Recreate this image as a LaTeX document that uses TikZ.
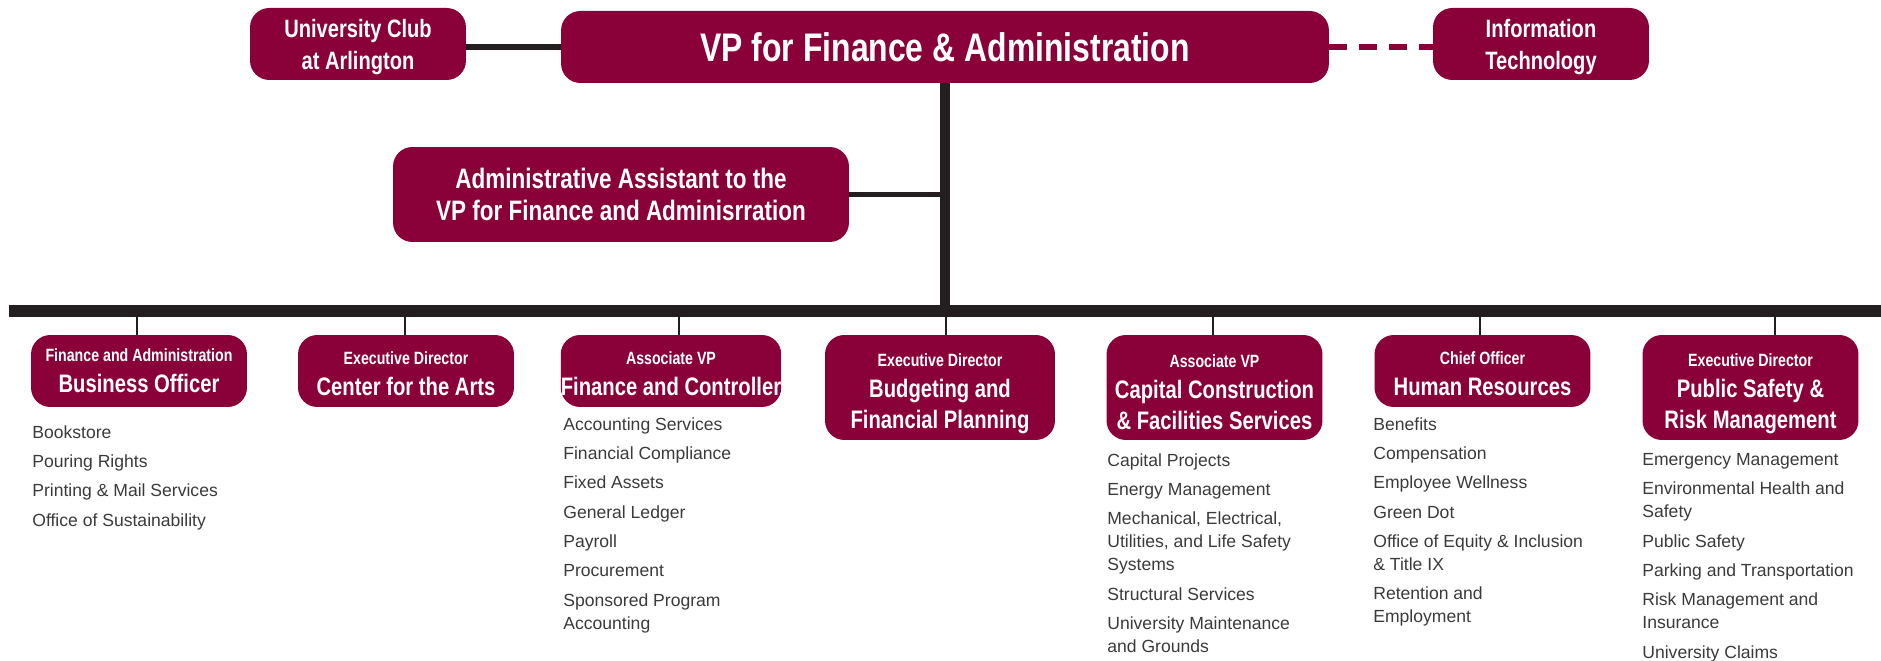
\documentclass[tikz,border=0pt]{standalone}
\usepackage{fontspec}
\setmainfont{Liberation Sans}
\newfontfamily\unitfont{Liberation Sans}[FakeStretch=0.8]
\definecolor{maroon}{HTML}{8A0038}
\definecolor{ink}{HTML}{231F20}
\definecolor{listgray}{HTML}{3A3A3A}
\newcommand{\jobtitle}[2][10.7pt]{{\fontsize{10.1}{17.6}\selectfont\rule{0pt}{#1}#2}}
\tikzset{
  unit/.style={
    rounded corners=11pt,
    fill=maroon,
    text=white,
    align=center,
    inner sep=0pt,
    minimum width=4.32cm,
    minimum height=1.44cm,
    font=\unitfont\bfseries\fontsize{14.4}{17.6}\selectfont
  },
  tall/.style={minimum height=2.1cm},
  top unit/.style={
    unit,
    font=\unitfont\bfseries\fontsize{14.3}{18.2}\selectfont
  },
  duties/.style={
    anchor=north west,
    align=left,
    inner sep=0pt,
    text=listgray,
    font=\fontsize{10}{13.1}\selectfont
  },
  bar/.style={ink, line width=6.3pt},
  trunk/.style={ink, line width=5.7pt},
  link/.style={ink, line width=2.9pt},
  drop/.style={ink, line width=1.1pt},
}

\begin{document}
\begin{tikzpicture}[x=0.02cm, y=-0.02cm]
\useasboundingbox (0,0) rectangle (1881,661);
\node[unit, minimum width=15.36cm, font=\unitfont\bfseries\fontsize{22.7}{26}\selectfont] (vp) at (945,47) {VP for Finance \& Administration};
\node[top unit] (uc) at (358,44) {\rule{0pt}{13.9pt}University Club\\at Arlington};
\node[top unit] (it) at (1541,44) {\rule{0pt}{13.9pt}Information\\Technology};
\node[unit, minimum width=9.12cm, minimum height=1.9cm, font=\unitfont\bfseries\fontsize{16}{18.2}\selectfont] (aa) at (621,194.5) {Administrative Assistant to the\\VP for Finance and Adminisrration};

\coordinate (busL) at (9,311);
\coordinate (busR) at (1881,311);
\draw[link] (vp.west -| uc.east) -- (vp.west);
\draw[maroon, line width=3.4pt, dash pattern=on 10.2pt off 6.8pt] (vp.east) -- (vp.east -| it.west);
\draw[trunk] (vp.south) -- (vp.south |- busL);
\draw[link] (aa.east) -- (aa.east -| vp.south);
\draw[bar] (busL) -- (busR);

\node[unit] (bo) at (139,371) {\jobtitle[7pt]{Finance and Administration}\\Business Officer};
\node[unit] (ca) at (406,371) {\jobtitle{Executive Director}\\Center for the Arts};
\node[unit] (fc) at (671,371) {\jobtitle{Associate VP}\\Finance and Controller};
\node[unit, tall, minimum width=4.6cm] (bfp) at (940,387.5) {\jobtitle[14.1pt]{Executive Director}\\Budgeting and\\Financial Planning};
\node[unit, tall] (ccf) at (1214.5,387.5) {\jobtitle[13pt]{Associate VP}\\Capital Construction\\\& Facilities Services};
\node[unit] (hr) at (1482.5,371) {\jobtitle{Chief Officer}\\Human Resources};
\node[unit, tall] (ps) at (1750.5,387.5) {\jobtitle[14.1pt]{Executive Director}\\Public Safety \&\\Risk Management};

\foreach \n/\x in {bo/137,ca/405,fc/679,bfp/946,ccf/1213,hr/1480,ps/1775} {
  \coordinate (d\n) at (\x,311);
  \draw[drop] (d\n) -- (d\n |- \n.north);
}

\node[duties] (bolist) at (32,425) {Bookstore\\[3.6pt]Pouring Rights\\[3.6pt]Printing \& Mail Services\\[3.6pt]Office of Sustainability};
\node[duties] (fclist) at (563,417) {Accounting Services\\[3.6pt]Financial Compliance\\[3.6pt]Fixed Assets\\[3.6pt]General Ledger\\[3.6pt]Payroll\\[3.6pt]Procurement\\[3.6pt]Sponsored Program\\Accounting};
\node[duties] (ccflist) at (1107,453) {Capital Projects\\[3.6pt]Energy Management\\[3.6pt]Mechanical, Electrical,\\Utilities, and Life Safety\\Systems\\[3.6pt]Structural Services\\[3.6pt]University Maintenance\\and Grounds};
\node[duties] (hrlist) at (1373,417) {Benefits\\[3.6pt]Compensation\\[3.6pt]Employee Wellness\\[3.6pt]Green Dot\\[3.6pt]Office of Equity \& Inclusion\\\& Title IX\\[3.6pt]Retention and\\Employment};
\node[duties] (pslist) at (1642,453) {Emergency Management\\[3.6pt]Environmental Health and\\Safety\\[3.6pt]Public Safety\\[3.6pt]Parking and Transportation\\[3.6pt]Risk Management and\\Insurance\\[3.6pt]University Claims};
\end{tikzpicture}
\end{document}
